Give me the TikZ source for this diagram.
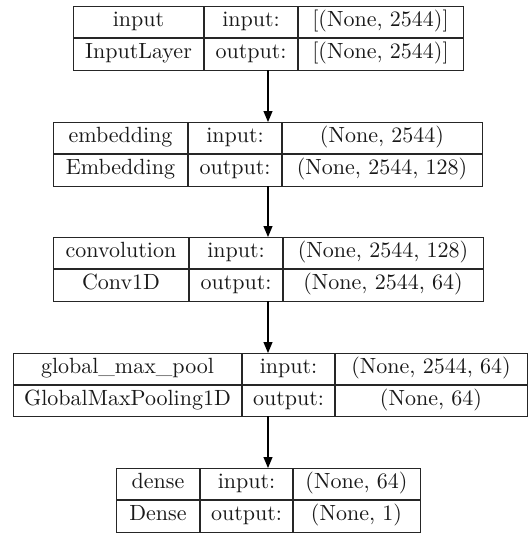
\documentclass[tikz,border=0pt]{standalone}
\usepackage{fontspec}
\setmainfont{lmroman10-regular.otf}
\usetikzlibrary{arrows.meta}
\begin{document}
\begin{tikzpicture}[x=1pt,y=-1pt,
  box/.style={draw=black!85, line width=1.3pt, inner sep=0pt, anchor=north west},
  sep/.style={draw=black!85, line width=1.3pt},
  txt/.style={inner sep=0pt, font=\fontsize{22}{26}\selectfont, text height=15pt, text depth=5.5pt, text=black!90},
  link/.style={draw=black, line width=1.1pt, -{Triangle[length=11pt,width=9pt]}}]
\useasboundingbox (0,0) rectangle (528,533);
% layer 1
\node[box, minimum width=390pt, minimum height=64pt] (L1) at (73,6) {};
\draw[sep] (73,38) -- (463,38) (204,6) -- (204,70) (298,6) -- (298,70);
\node[txt] (L1a) at (138.5,22) {input};
\node[txt] (L1b) at (251,22) {input:};
\node[txt] (L1c) at (380.5,22) {[(None, 2544)]};
\node[txt] (L1d) at (138.5,54) {InputLayer};
\node[txt] (L1e) at (251,54) {output:};
\node[txt] (L1f) at (380.5,54) {[(None, 2544)]};
% layer 2
\node[box, minimum width=429pt, minimum height=64pt] (L2) at (53,122) {};
\draw[sep] (53,154) -- (482,154) (188,122) -- (188,186) (282,122) -- (282,186);
\node[txt] (L2a) at (120.5,138) {embedding};
\node[txt] (L2b) at (235,138) {input:};
\node[txt] (L2c) at (382,138) {(None, 2544)};
\node[txt] (L2d) at (120.5,170) {Embedding};
\node[txt] (L2e) at (235,170) {output:};
\node[txt] (L2f) at (382,170) {(None, 2544, 128)};
% layer 3
\node[box, minimum width=430pt, minimum height=64pt] (L3) at (53,237) {};
\draw[sep] (53,269) -- (483,269) (189,237) -- (189,301) (283,237) -- (283,301);
\node[txt] (L3a) at (121,253) {convolution};
\node[txt] (L3b) at (236,253) {input:};
\node[txt] (L3c) at (383,253) {(None, 2544, 128)};
\node[txt] (L3d) at (121,285) {Conv1D};
\node[txt] (L3e) at (236,285) {output:};
\node[txt] (L3f) at (383,285) {(None, 2544, 64)};
% layer 4
\node[box, minimum width=514pt, minimum height=63pt] (L4) at (13,353) {};
\draw[sep] (13,385) -- (527,385) (242,353) -- (242,416) (335,353) -- (335,416);
\node[txt] (L4a) at (127.5,369) {global\_max\_pool};
\node[txt] (L4b) at (288.5,369) {input:};
\node[txt] (L4c) at (431,369) {(None, 2544, 64)};
\node[txt] (L4d) at (127.5,400.5) {GlobalMaxPooling1D};
\node[txt] (L4e) at (288.5,400.5) {output:};
\node[txt] (L4f) at (431,400.5) {(None, 64)};
% layer 5
\node[box, minimum width=304pt, minimum height=64pt] (L5) at (116,468) {};
\draw[sep] (116,500) -- (420,500) (200,468) -- (200,532) (293,468) -- (293,532);
\node[txt] (L5a) at (158,484) {dense};
\node[txt] (L5b) at (246.5,484) {input:};
\node[txt] (L5c) at (356.5,484) {(None, 64)};
\node[txt] (L5d) at (158,516) {Dense};
\node[txt] (L5e) at (246.5,516) {output:};
\node[txt] (L5f) at (356.5,516) {(None, 1)};
% connectors
\coordinate (a1) at (268,70); \coordinate (b1) at (268,122);
\coordinate (a2) at (268,186); \coordinate (b2) at (268,237);
\coordinate (a3) at (268,301); \coordinate (b3) at (268,353);
\coordinate (a4) at (268,416); \coordinate (b4) at (268,468);
\draw[link] (a1) -- (b1);
\draw[link] (a2) -- (b2);
\draw[link] (a3) -- (b3);
\draw[link] (a4) -- (b4);
\end{tikzpicture}
\end{document}
